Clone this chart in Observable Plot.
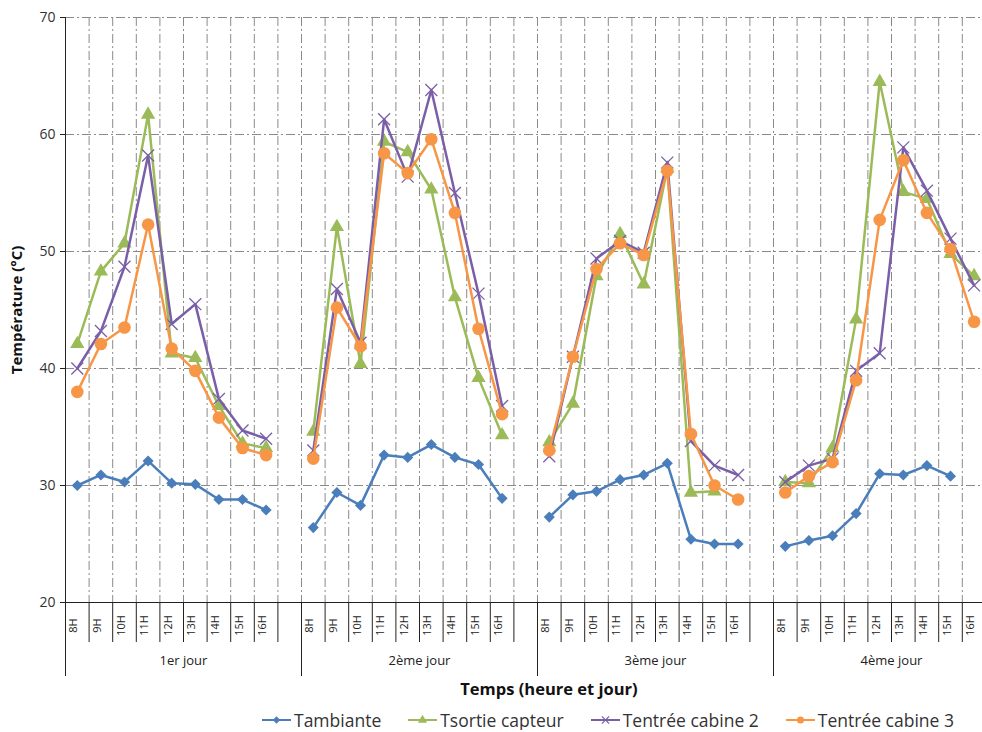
<!DOCTYPE html>
<html>
<head>
<meta charset="utf-8">
<script src="https://cdn.jsdelivr.net/npm/d3@7"></script>
<script src="https://cdn.jsdelivr.net/npm/@observablehq/plot@0.6"></script>
<style>
  body { margin:0; overflow:hidden; background:#fff; font-family:"Open Sans", sans-serif; color:#333; }
  #chart svg { max-width:none; }
  #xtitle { height:18px; line-height:18px; font-weight:bold; font-size:16.5px; color:#111; text-align:center; padding-left:116px; width:866px; margin-top:0px; }
  #legend { display:flex; align-items:center; margin-top:12px; margin-left:262px; width:max-content; height:20px; line-height:20px; font-size:17.5px; color:#333; white-space:nowrap; }
  #legend .item { display:flex; flex-shrink:0; align-items:center; margin-right:27px; }
  #legend .item:last-child { margin-right:0; }
  #legend svg { margin-right:3px; flex-shrink:0; }
</style>
</head>
<body>
<div id="chart"></div>
<div id="xtitle">Temps (heure et jour)</div>
<div id="legend"></div>
<script>
const days = ["1er jour", "2ème jour", "3ème jour", "4ème jour"];
const hours = ["8H", "9H", "10H", "11H", "12H", "13H", "14H", "15H", "16H"];
const yTicks = [20, 30, 40, 50, 60, 70];

const tambiante = [
  30.0, 30.9, 30.3, 32.1, 30.2, 30.1, 28.8, 28.8, 27.9,
  26.4, 29.4, 28.3, 32.6, 32.4, 33.5, 32.4, 31.8, 28.9,
  27.3, 29.2, 29.5, 30.5, 30.9, 31.9, 25.4, 25.0, 25.0,
  24.8, 25.3, 25.7, 27.6, 31.0, 30.9, 31.7, 30.8, null
];
const tsortie = [
  42.1, 48.3, 50.7, 61.7, 41.3, 40.9, 36.8, 33.6, 33.2,
  34.6, 52.1, 40.4, 59.4, 58.5, 55.3, 46.1, 39.2, 34.3,
  33.7, 37.0, 47.9, 51.5, 47.2, 57.1, 29.4, 29.5, null,
  30.3, 30.2, 33.2, 44.2, 64.5, 55.1, 54.5, 49.8, 47.9
];
const cabine2 = [
  40.0, 43.2, 48.7, 58.2, 43.8, 45.5, 37.4, 34.7, 34.0,
  33.0, 46.8, 42.2, 61.3, 56.4, 63.8, 55.0, 46.4, 36.8,
  32.5, 41.0, 49.4, 50.9, 49.9, 57.6, 33.8, 31.7, 30.9,
  30.3, 31.7, 32.3, 39.8, 41.3, 58.9, 55.2, 51.1, 47.1
];
const cabine3 = [
  38.0, 42.1, 43.5, 52.3, 41.7, 39.8, 35.8, 33.2, 32.6,
  32.3, 45.2, 41.9, 58.4, 56.7, 59.6, 53.3, 43.4, 36.1,
  33.0, 41.0, 48.5, 50.7, 49.7, 56.9, 34.4, 30.0, 28.8,
  29.4, 30.8, 32.0, 39.0, 52.7, 57.8, 53.3, 50.2, 44.0
];

const seriesNames = ["Tambiante", "Tsortie capteur", "Tentrée cabine 2", "Tentrée cabine 3"];
const seriesValues = [tambiante, tsortie, cabine2, cabine3];
const seriesColors = ["#4a7ebb", "#9bbb59", "#7a5fa8", "#f79646"];
const seriesSymbols = ["diamond2", "triangle", "times", "circle"];
const seriesR = [5, 5.3, 5.5, 6.3];

const slotsPerDay = hours.length + 1;
const nSlots = days.length * slotsPerDay;

const rows = [];
seriesNames.forEach((name, s) => {
  days.forEach((day, d) => {
    hours.forEach((h, i) => {
      const v = seriesValues[s][d * hours.length + i];
      if (v != null) rows.push({series: name, s, day, hour: h, slot: d * slotsPerDay + i + 0.5, value: v});
    });
  });
});

const boundaries = d3.range(1, nSlots + 1);
const shortBounds = boundaries.filter(b => b % slotsPerDay !== 0);
const dayBounds = d3.range(0, nSlots + 1, slotsPerDay);
const hourLabels = [];
days.forEach((day, d) => hours.forEach((h, i) => hourLabels.push({slot: d * slotsPerDay + i + 0.5, label: h})));
const dayLabels = days.map((day, d) => ({slot: d * slotsPerDay + slotsPerDay / 2, label: day}));

const dash = "9,3,2,3";
const marks = [
  Plot.gridY(yTicks.filter(t => t > 20), {stroke: "#8a8a8a", strokeOpacity: 1, strokeDasharray: dash}),
  Plot.gridX(boundaries.filter(b => b < nSlots), {stroke: "#8a8a8a", strokeOpacity: 1, strokeDasharray: dash}),
  Plot.axisX(shortBounds, {tickSize: 40, tickFormat: () => "", stroke: "#222", label: null}),
  Plot.axisX(dayBounds, {tickSize: 74, tickFormat: () => "", stroke: "#222", label: null}),
  Plot.text(hourLabels, {x: "slot", text: "label", frameAnchor: "bottom", dy: 23, rotate: -90, textAnchor: "middle", fontSize: 11, fill: "#222"}),
  Plot.text(dayLabels, {x: "slot", text: "label", frameAnchor: "bottom", dy: 62, fontSize: 13, fill: "#222"}),
  Plot.axisY({ticks: yTicks, tickSize: 5, tickPadding: 5, fontSize: 14, label: null, stroke: "#222", fill: "#333"}),
  Plot.text(["Température (°C)"], {frameAnchor: "left", rotate: -90, dx: -48, textAnchor: "middle", fontSize: 15, fontWeight: "bold", fill: "#111"}),
  Plot.ruleX([0], {stroke: "#222"}),
  Plot.ruleY([20], {stroke: "#222"})
];
seriesNames.forEach((name, s) => {
  const data = rows.filter(r => r.s === s);
  marks.push(Plot.line(data, {x: "slot", y: "value", z: "day", stroke: seriesColors[s], strokeWidth: 2.5, curve: "linear"}));
  if (seriesSymbols[s] === "times") {
    marks.push(Plot.dot(data, {x: "slot", y: "value", symbol: () => "times", r: seriesR[s], stroke: seriesColors[s], strokeWidth: 1.3}));
  } else {
    marks.push(Plot.dot(data, {x: "slot", y: "value", symbol: () => seriesSymbols[s], r: seriesR[s], fill: seriesColors[s], stroke: "none"}));
  }
});

const chart = Plot.plot({
  width: 1010,
  height: 680,
  marginLeft: 65,
  marginRight: 1,
  marginTop: 17,
  marginBottom: 78,
  style: {fontFamily: "Open Sans", background: "#fff", overflow: "visible"},
  x: {domain: [0, nSlots], axis: null},
  y: {domain: [20, 70], axis: null},
  symbol: {domain: seriesSymbols, range: seriesSymbols},
  marks
});
document.getElementById("chart").appendChild(chart);

const legend = document.getElementById("legend");
seriesNames.forEach((name, s) => {
  const item = document.createElement("div");
  item.className = "item";
  const sym = d3.symbol(
    {diamond2: d3.symbolDiamond2, triangle: d3.symbolTriangle, times: d3.symbolTimes, circle: d3.symbolCircle}[seriesSymbols[s]],
    seriesSymbols[s] === "circle" ? 40 : 36
  )();
  const fillAttr = seriesSymbols[s] === "times" ? `fill="none" stroke="${seriesColors[s]}" stroke-width="1.3"` : `fill="${seriesColors[s]}"`;
  item.innerHTML = `<svg width="29" height="14"><line x1="0" x2="29" y1="7" y2="7" stroke="${seriesColors[s]}" stroke-width="2"/><path d="${sym}" transform="translate(14.5,7)" ${fillAttr}/></svg><span>${name}</span>`;
  legend.appendChild(item);
});
</script>
</body>
</html>
